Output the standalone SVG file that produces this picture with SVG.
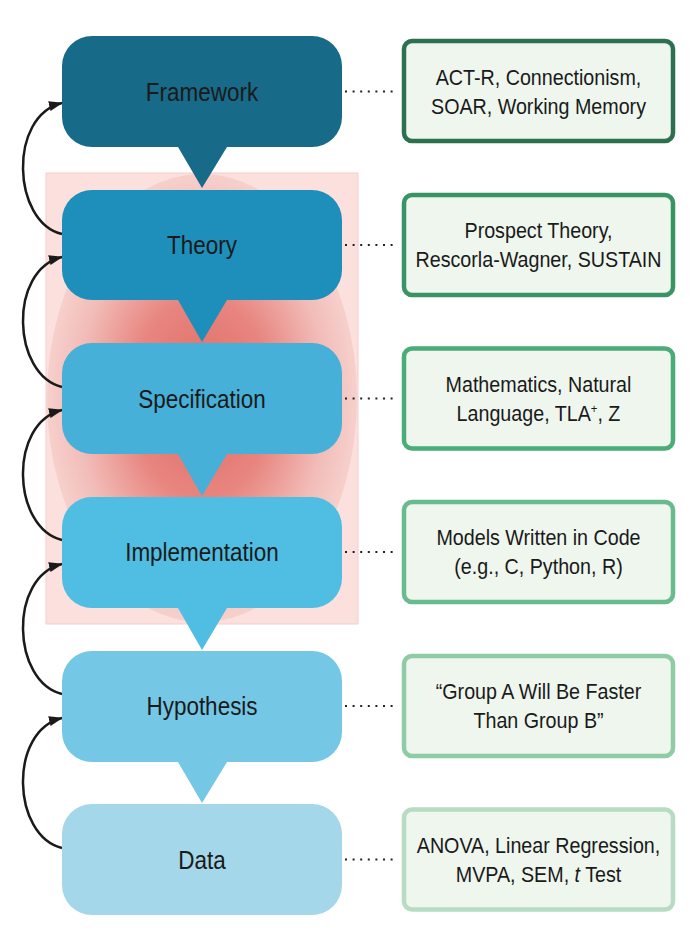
<svg xmlns="http://www.w3.org/2000/svg" width="700" height="935" viewBox="0 0 700 935">
<style>
.nt{font-family:"Liberation Sans",Arial,sans-serif;font-size:26px;fill:#1a1a1a;text-anchor:middle}
.bt{font-family:"Liberation Sans",Arial,sans-serif;font-size:22.5px;fill:#1a1a1a;text-anchor:middle}
.box{fill:#eef6ee;stroke-width:4.5}
.dot{stroke:#222;stroke-width:2;stroke-dasharray:2 5.6;fill:none}
.arr{stroke:#1a1a1a;stroke-width:2.5;fill:none;marker-end:url(#ah)}
</style>
<defs>
<marker id="ah" markerUnits="userSpaceOnUse" markerWidth="14" markerHeight="11" refX="13" refY="5" orient="auto" viewBox="0 0 14 10">
<path d="M0,0 L14,5 L0,10 z" fill="#1a1a1a"/>
</marker>
<radialGradient id="rg" cx="0.5" cy="0.5" r="0.5">
<stop offset="0" stop-color="#e06a64"/>
<stop offset="0.45" stop-color="#e8857f"/>
<stop offset="0.8" stop-color="#f2bcb8"/>
<stop offset="1" stop-color="#f6d0cc"/>
</radialGradient>
</defs>
<g id="background">
<rect x="46" y="173" width="312" height="451" fill="#fbe0dd" stroke="#f6cdc9" stroke-width="1"/>
<ellipse cx="202" cy="398" rx="155" ry="224" fill="url(#rg)"/>
</g>
<g id="connectors">
<line class="dot" x1="345" y1="91.5" x2="398" y2="91.5"/>
<line class="dot" x1="345" y1="245" x2="398" y2="245"/>
<line class="dot" x1="345" y1="398.5" x2="398" y2="398.5"/>
<line class="dot" x1="345" y1="552" x2="398" y2="552"/>
<line class="dot" x1="345" y1="706" x2="398" y2="706"/>
<line class="dot" x1="345" y1="859.5" x2="398" y2="859.5"/>
<path class="arr" d="M62,234 C12,222 8,116 62,103"/>
<path class="arr" d="M62,387 C12,375 8,270 62,257"/>
<path class="arr" d="M62,540 C12,528 8,423 62,410"/>
<path class="arr" d="M62,694 C12,682 8,577 62,564"/>
<path class="arr" d="M62,848 C12,836 8,731 62,718"/>
</g>
<g id="node-framework">
<path d="M92,36 H312 A30,30 0 0 1 342,66 V117 A30,30 0 0 1 312,147 H227 L202,188 L178,147 H92 A30,30 0 0 1 62,117 V66 A30,30 0 0 1 92,36 Z" fill="#186a89"/>
<text class="nt" transform="translate(202,100.5) scale(0.865,1)">Framework</text>
</g>
<g id="node-theory">
<path d="M92,190 H312 A30,30 0 0 1 342,220 V270 A30,30 0 0 1 312,300 H227 L202,342 L178,300 H92 A30,30 0 0 1 62,270 V220 A30,30 0 0 1 92,190 Z" fill="#1e8fba"/>
<text class="nt" transform="translate(202,254) scale(0.865,1)">Theory</text>
</g>
<g id="node-specification">
<path d="M92,343 H312 A30,30 0 0 1 342,373 V424 A30,30 0 0 1 312,454 H227 L202,496 L178,454 H92 A30,30 0 0 1 62,424 V373 A30,30 0 0 1 92,343 Z" fill="#47b0d8"/>
<text class="nt" transform="translate(202,407.5) scale(0.865,1)">Specification</text>
</g>
<g id="node-implementation">
<path d="M92,497 H312 A30,30 0 0 1 342,527 V578 A30,30 0 0 1 312,608 H227 L202,650 L178,608 H92 A30,30 0 0 1 62,578 V527 A30,30 0 0 1 92,497 Z" fill="#50bde3"/>
<text class="nt" transform="translate(202,561) scale(0.865,1)">Implementation</text>
</g>
<g id="node-hypothesis">
<path d="M92,651 H312 A30,30 0 0 1 342,681 V732 A30,30 0 0 1 312,762 H227 L202,803 L178,762 H92 A30,30 0 0 1 62,732 V681 A30,30 0 0 1 92,651 Z" fill="#74c7e5"/>
<text class="nt" transform="translate(202,715) scale(0.865,1)">Hypothesis</text>
</g>
<g id="node-data">
<rect x="62" y="804" width="280" height="111" rx="30" fill="#a3d7e9"/>
<text class="nt" transform="translate(202,868.5) scale(0.865,1)">Data</text>
</g>
<g id="box-framework">
<rect class="box" x="404" y="41" width="269" height="100" rx="8" stroke="#2d7050"/>
<text class="bt" transform="translate(538.5,84.5) scale(0.875,1)">ACT-R, Connectionism,</text>
<text class="bt" transform="translate(538.5,113.5) scale(0.875,1)">SOAR, Working Memory</text>
</g>
<g id="box-theory">
<rect class="box" x="404" y="195" width="269" height="100" rx="8" stroke="#3a9364"/>
<text class="bt" transform="translate(538.5,238) scale(0.875,1)">Prospect Theory,</text>
<text class="bt" transform="translate(538.5,267) scale(0.875,1)">Rescorla-Wagner, SUSTAIN</text>
</g>
<g id="box-specification">
<rect class="box" x="404" y="348.5" width="269" height="100" rx="8" stroke="#4aac77"/>
<text class="bt" transform="translate(538.5,391.5) scale(0.875,1)">Mathematics, Natural</text>
<text class="bt" transform="translate(538.5,420.5) scale(0.875,1)">Language, TLA<tspan font-size="13" baseline-shift="7">+</tspan>, Z</text>
</g>
<g id="box-implementation">
<rect class="box" x="404" y="502" width="269" height="100" rx="8" stroke="#69ba8c"/>
<text class="bt" transform="translate(538.5,545) scale(0.875,1)">Models Written in Code</text>
<text class="bt" transform="translate(538.5,574) scale(0.875,1)">(e.g., C, Python, R)</text>
</g>
<g id="box-hypothesis">
<rect class="box" x="404" y="656" width="269" height="100" rx="8" stroke="#8fcba5"/>
<text class="bt" transform="translate(538.5,699) scale(0.875,1)">“Group A Will Be Faster</text>
<text class="bt" transform="translate(538.5,728) scale(0.875,1)">Than Group B”</text>
</g>
<g id="box-data">
<rect class="box" x="404" y="809.5" width="269" height="100" rx="8" stroke="#b6dcc3"/>
<text class="bt" transform="translate(538.5,852.5) scale(0.875,1)">ANOVA, Linear Regression,</text>
<text class="bt" transform="translate(538.5,881.5) scale(0.875,1)">MVPA, SEM, <tspan font-style="italic">t</tspan> Test</text>
</g>
</svg>
